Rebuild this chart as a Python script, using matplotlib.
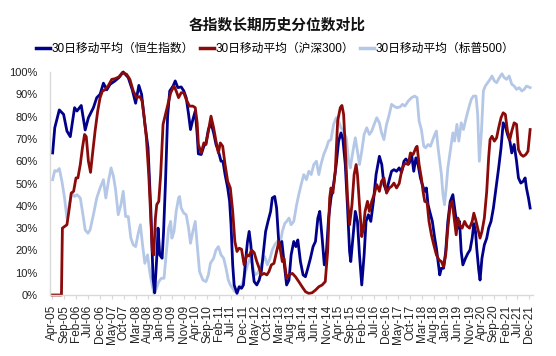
import matplotlib
matplotlib.use('Agg')
import matplotlib.pyplot as plt
from matplotlib.lines import Line2D

plt.rcParams['font.family'] = ['Liberation Sans', 'Noto Sans CJK SC']

title = '各指数长期历史分位数对比'
series_names = ['30日移动平均（恒生指数）', '30日移动平均（沪深300）', '30日移动平均（标普500）']

# x = months since Apr-2005
tick_labels = ['Apr-05', 'Sep-05', 'Feb-06', 'Jul-06', 'Dec-06', 'May-07', 'Oct-07', 'Mar-08',
               'Aug-08', 'Jan-09', 'Jun-09', 'Nov-09', 'Apr-10', 'Sep-10', 'Feb-11', 'Jul-11',
               'Dec-11', 'May-12', 'Oct-12', 'Mar-13', 'Aug-13', 'Jan-14', 'Jun-14', 'Nov-14',
               'Apr-15', 'Sep-15', 'Feb-16', 'Jul-16', 'Dec-16', 'May-17', 'Oct-17', 'Mar-18',
               'Aug-18', 'Jan-19', 'Jun-19', 'Nov-19', 'Apr-20', 'Sep-20', 'Feb-21', 'Jul-21',
               'Dec-21']
tick_months = [5 * i for i in range(len(tick_labels))]

hsi_t = [0.1, 1.0, 2.9, 4.7, 6.1, 7.5, 9.3, 10.3, 12.1, 13.75, 15.1, 17.2, 18.6, 20.0, 21.4, 22.8,
         24.2, 26.25, 27.9, 29.7, 31.8, 33.5, 34.9, 36.25, 37.4, 38.75, 40.1, 41.25, 42.2, 42.9,
         43.9, 44.3, 45.0, 46.0, 46.6, 47.4, 48.3, 49.2, 50.6, 51.5, 52.6, 54.0, 55.1, 56.1, 57.1,
         57.9, 58.9, 59.9, 60.7, 61.2, 62.4, 63.5, 64.4, 65.4, 66.5, 67.6, 68.6, 69.6, 70.7, 71.5,
         72.4, 73.5, 74.3, 74.9, 75.6, 76.2, 77.4, 78.3, 79.3, 80.1, 81.1, 81.8, 82.5, 83.2, 83.9,
         84.6, 85.7, 86.7, 87.6, 88.5, 89.4, 90.4, 91.5, 92.2, 93.2, 94.0, 95.0, 96.2, 97.2, 98.2,
         99.2, 100.1, 101.2, 102.1, 102.9, 104.0, 105.1, 106.1, 107.1, 108.2, 109.3, 110.3, 111.3,
         112.1, 113.1, 114.0, 114.9, 115.8, 116.8, 117.9, 119.0, 120.0, 121.0, 121.8, 122.8,
         123.75, 124.6, 125.1, 126.0, 127.0, 127.9, 128.75, 129.7, 130.7, 131.5, 132.5, 133.5,
         134.6, 135.7, 137.1, 138.1, 139.0, 140.1, 141.25, 142.2, 143.2, 144.3, 145.4, 146.4,
         147.4, 148.2, 149.6, 150.6, 151.5, 152.4, 153.3, 154.3, 155.1, 156.1, 156.8, 157.5,
         158.2, 159.3, 160.3, 161.0, 161.7, 162.4, 163.1, 164.0, 164.9, 165.8, 166.8, 167.9,
         169.0, 170.0, 170.7, 171.4, 172.1, 173.2, 174.2, 175.1, 176.0, 176.7, 177.4, 177.9,
         178.75, 179.3, 180.1, 181.1, 182.1, 182.9, 183.9, 184.9, 186.0, 187.1, 188.1, 189.0,
         189.9, 190.8, 191.8, 192.6, 193.6, 194.6, 195.4, 196.4, 197.4, 198.2, 198.75, 199.6, 200.3]
hsi_v = [63.7, 75, 83, 81, 73.5, 71, 84, 82.5, 85, 74, 79.5, 84, 88.5, 90, 95, 92,
         94.5, 96, 97.5, 100, 97.5, 92, 86, 94, 90, 77, 66, 39, 7.5, 1,
         19.5, 30, 18, 16.5, 28, 50, 80, 91.5, 93.7, 96, 93, 93.3, 91.5, 88.5, 81,
         74.2, 78.7, 82.5, 72, 63.3, 63, 66.7, 68.2, 74.2, 77.2, 72.7, 67.5, 64.5, 60, 60,
         54, 48, 42, 31.5, 13.5, 4.5, 0.7, 3.7, 3, 4.5, 16.5, 24, 28.5, 22.5, 12,
         6, 4.5, 6.7, 10.5, 19.5, 28.5, 33, 37.5, 43.5, 44.2, 39, 22, 24, 14, 4.5,
         6.7, 18, 24, 21.7, 24.7, 15, 9, 8.2, 12, 16.5, 21.7, 24, 34.5,
         37.5, 25.5, 13.5, 19.5, 34.5, 43.5, 49.5, 58.5, 69, 72.7, 69.8, 58.5,
         39, 19.5, 15, 25.5, 37.5, 33, 18, 4.5, 18, 33, 36, 33,
         42, 54, 62.2, 58.5, 49.5, 46.5, 51.7, 55.5, 56.2, 55.5, 57, 55,
         60, 61, 59, 63, 55.5, 61.5, 58.5, 52.5, 49.5, 46.5, 48, 40.5,
         37.5, 33, 25.5, 21, 15, 9, 12, 12, 19.5, 33, 42, 45,
         36, 30, 33, 19.5, 13.5, 16.5, 18.7, 20.2, 25.5, 32, 28.5, 21,
         11.2, 6.7, 16.5, 22.5, 25.5, 30, 33, 39, 48, 57, 66, 77.2,
         75.7, 72, 69, 63.7, 67.5, 60, 52.5, 50.2, 51, 52.5, 48, 43.5, 39]

hs300_t = [0, 3.8, 4.2, 6.1, 7.1, 7.9, 8.9, 9.9, 10.7, 11.7, 12.6, 13.5, 14.2, 15.1, 16.0, 16.8,
           17.9, 19.0, 20.0, 21.0, 22.1, 23.5, 24.9, 26.25, 27.9, 29.3, 31.1, 32.5, 33.9, 35.3,
           36.7, 37.6, 38.5, 39.4, 40.4, 41.25, 41.9, 42.5, 43.2, 43.75, 44.6, 45.4, 46.4, 47.4,
           48.2, 49.6, 51.0, 51.9, 52.9, 54.0, 55.1, 56.1, 57.5, 58.9, 59.9, 60.7, 61.2, 62.4,
           63.5, 64.4, 65.4, 66.5, 67.6, 68.6, 69.6, 70.4, 71.4, 72.4, 73.5, 74.6, 75.6, 76.5,
           77.4, 78.3, 79.3, 80.4, 81.5, 82.5, 83.5, 84.6, 85.7, 86.7, 87.6, 88.75, 89.9, 90.8,
           91.8, 92.9, 94.0, 95.0, 95.7, 96.4, 97.1, 98.2, 99.2, 100.6, 101.9, 103.3, 104.7,
           106.1, 107.5, 108.9, 110.3, 111.7, 113.1, 114.4, 115.4, 116.25, 116.8, 117.6, 118.6,
           119.6, 120.7, 121.4, 122.1, 122.8, 123.75, 124.6, 125.6, 126.5, 127.35, 127.9, 128.75,
           129.7, 130.4, 131.1, 132.1, 132.9, 133.9, 134.9, 136.0, 137.1, 138.0, 139.0, 140.1,
           141.25, 142.2, 143.2, 144.3, 145.4, 146.4, 147.4, 148.2, 149.2, 150.1, 151.25, 152.4,
           152.9, 153.75, 154.7, 155.4, 156.1, 157.1, 157.9, 158.9, 159.9, 161.0, 162.1, 163.1,
           164.0, 164.9, 165.8, 166.8, 167.6, 168.6, 169.3, 170.0, 170.7, 171.8, 172.8, 173.75,
           174.9, 176.0, 176.7, 177.4, 178.3, 179.3, 180.1, 181.1, 182.1, 182.9, 183.5, 184.3,
           185.3, 186.25, 187.1, 188.1, 189.0, 189.9, 190.8, 191.8, 192.6, 193.6, 194.6, 195.4,
           196.4, 197.4, 198.5, 199.4, 200.3]
hs300_v = [0, 0, 30, 31.5, 39, 45.7, 46.5, 52.5, 52.5, 58.5, 66, 72, 71, 60, 55, 63,
           73.5, 82.5, 88.5, 91.5, 92, 94, 96.7, 97, 97.8, 99.7, 99, 96.7, 91.5, 88.5,
           89, 87, 79.5, 70.5, 54, 34.5, 19.5, 18, 34.5, 40.5, 42, 54, 76.5, 81,
           84.7, 90.7, 93.7, 91.5, 88.5, 90.7, 90.7, 87.7, 84.7, 84.7, 84, 77.2, 67.5, 63.7,
           68.2, 67.5, 73.5, 80.2, 75, 69, 63.7, 68.2, 66.7, 58.5, 51, 48, 37.5, 24,
           19.5, 21, 20.5, 13.5, 18, 17.5, 20.2, 19, 15, 12, 9, 9.7, 9, 10.5,
           13.5, 14.2, 19.5, 24, 19.5, 15, 16.5, 7.5, 9, 9.7, 8.2, 6, 3.7,
           1.5, 0.7, 1, 2.2, 3.7, 4.5, 6, 19.5, 43.5, 48, 45.7, 55.5,
           78, 84, 85, 81, 66, 43.5, 31.5, 40.5, 54, 58.5, 54, 40.5,
           26.2, 30, 37.5, 42, 37.5, 42, 45, 49.5, 46.5, 51, 52.5, 45.7,
           48, 48.7, 50.2, 48, 50, 55.5, 58.5, 59, 58.5, 63.7, 63, 66,
           66.7, 58.5, 52.5, 46.5, 42, 41.5, 33, 27, 22.5, 18, 15.7, 15,
           12.7, 18, 30, 40.5, 42, 33, 27, 34.5, 31.5, 30, 33, 31,
           30, 33, 36.7, 34, 30, 25.5, 28.5, 34.5, 46.5, 61.5, 69.7, 71.2,
           69, 70.5, 75, 79.5, 81.7, 81, 73.5, 69.7, 73.5, 77.2, 76.5, 65.2,
           63, 62.2, 63, 64.5, 74.2]

sp_t = [0.1, 1.0, 1.9, 2.9, 4.0, 5.1, 6.1, 7.1, 8.2, 9.3, 10.3, 11.7, 12.6, 13.75, 14.9, 15.8,
        17.2, 18.6, 20.0, 21.4, 22.4, 23.5, 24.6, 25.6, 26.5, 27.6, 28.75, 29.7, 30.7, 31.8,
        32.9, 33.9, 34.9, 36.0, 36.9, 37.8, 38.75, 39.9, 40.8, 41.8, 42.6, 43.6, 44.6, 45.7,
        46.8, 47.8, 48.75, 49.6, 50.1, 51.0, 51.9, 52.9, 53.3, 54.0, 55.1, 56.1, 57.1, 57.9,
        58.9, 59.9, 60.7, 61.7, 63.1, 64.4, 65.4, 66.25, 67.6, 68.6, 69.6, 70.7, 71.8, 72.8,
        73.75, 74.6, 75.6, 76.5, 77.6, 78.75, 79.7, 80.7, 81.8, 82.9, 83.9, 84.9, 86.0, 87.1,
        88.1, 89.0, 90.1, 91.25, 92.2, 93.2, 94.3, 95.4, 96.4, 97.4, 98.2, 99.2, 100.1, 101.2,
        102.4, 103.3, 104.3, 105.4, 106.5, 107.5, 108.5, 109.6, 110.7, 111.7, 112.6, 113.75,
        114.9, 115.8, 116.8, 117.9, 119.0, 120.0, 121.0, 122.1, 123.2, 124.2, 124.9, 126.0,
        127.0, 127.9, 128.75, 129.7, 130.7, 131.8, 132.9, 133.9, 134.9, 136.0, 137.1, 138.0,
        139.0, 140.1, 141.25, 142.2, 143.2, 144.3, 145.7, 146.8, 147.8, 149.2, 150.6, 151.9,
        152.9, 153.75, 154.7, 155.7, 156.5, 157.5, 158.5, 159.3, 160.3, 161.0, 161.7, 162.4,
        163.1, 163.75, 164.4, 165.1, 165.8, 166.8, 167.9, 168.6, 169.6, 170.4, 171.4, 172.35,
        173.5, 174.6, 175.6, 176.5, 177.6, 178.3, 179.0, 179.9, 180.7, 181.5, 182.5, 183.5,
        184.3, 185.3, 186.25, 187.4, 188.5, 189.4, 190.4, 191.5, 192.6, 193.6, 194.6, 195.7,
        196.8, 197.8, 198.75, 200.3]
sp_v = [51.7, 55.8, 55.5, 56.7, 51, 43.5, 34.5, 40.5, 45.7, 44.2, 45, 43.5, 37.5, 29.2, 27.7, 29.2,
        36, 43.5, 48, 51.7, 43.5, 51, 57, 53.2, 47.2, 36, 40.5, 46.5, 35.2, 35.2,
        25.5, 22.5, 21.7, 27.7, 31.5, 22.5, 14.2, 18, 10.5, 4.5, 0.7, 3, 6, 7.5,
        7.5, 19.5, 30, 33, 25.5, 28.5, 37.5, 43.5, 44.2, 39, 36.7, 36, 30, 23.2,
        28.5, 33, 22.5, 10.5, 6.7, 6, 9, 14.2, 16.5, 20.2, 21.7, 18, 16.5, 12,
        6.7, 4.5, 3, 1.5, 1.5, 3.5, 5.2, 9, 13.5, 16.5, 13.5, 9, 9.7, 12,
        15, 17.2, 13.5, 16.5, 20.2, 22.5, 24, 22.5, 28.5, 32, 33, 34.5, 31.5, 33,
        40.5, 45, 49.5, 54, 51.7, 55.5, 54, 58.5, 60, 54, 58.5, 63,
        66, 69, 69.7, 76.5, 79.5, 78, 75, 73.5, 70.5, 60, 57, 64.5,
        70.5, 64.5, 58.5, 64.5, 72, 75, 72, 73.5, 76.5, 79.5, 77.2, 72.7,
        69.7, 76.5, 81, 85.5, 84.7, 84, 84.3, 85.5, 84.7, 87, 88.5, 89.2,
        88.5, 78, 74.2, 66.7, 66, 67.5, 66.7, 69, 72, 73.5, 66, 60,
        54, 45, 40.5, 48, 57, 64.5, 72.7, 69, 76.5, 69, 77.2, 74.2,
        79.5, 84, 87.7, 89.2, 89.2, 81, 60, 73.5, 91.5, 93.7, 95.2, 96.7,
        98.2, 96, 95.2, 97.5, 99.2, 97.5, 96.7, 98.2, 94.5, 93.7, 92.2, 93,
        91.5, 92.2, 93.7, 93]

colors = ['#00008b', '#8b0a0a', '#b4c7e7']

fig = plt.figure(figsize=(5.56, 3.56), dpi=100)
ax = fig.add_axes([50 / 556, 1 - 295 / 356, (533 - 50) / 556, (295 - 72) / 356])

lw = 2.0
ax.plot(sp_t, sp_v, color=colors[2], lw=lw, clip_on=False, solid_joinstyle='round')
ax.plot(hsi_t, hsi_v, color=colors[0], lw=lw, clip_on=False, solid_joinstyle='round')
ax.plot(hs300_t, hs300_v, color=colors[1], lw=lw, clip_on=False, solid_joinstyle='round')

ax.set_xlim(-1, 201.5)
ax.set_ylim(0, 100)
yt = list(range(0, 101, 10))
ax.set_yticks(yt)
ax.set_yticklabels([f'{v}%' for v in yt])
ax.set_xticks(tick_months)
ax.set_xticklabels(tick_labels, rotation=90)
ax.tick_params(axis='x', length=3, color='#d9d9d9', labelsize=8.5, pad=4, labelcolor='#222222')
ax.tick_params(axis='y', length=0, labelsize=8, pad=9, labelcolor='#222222')
for s in ['top', 'right']:
    ax.spines[s].set_visible(False)
for s in ['left', 'bottom']:
    ax.spines[s].set_color('#d9d9d9')
    ax.spines[s].set_linewidth(1.0)

fig.text(277 / 556, 1 - 25 / 356, title, ha='center', va='center', fontsize=10.6,
         fontweight='bold', color='#111111')

handles = [Line2D([], [], color=c, lw=2.5) for c in colors]
fig.legend(handles, series_names, loc='center', bbox_to_anchor=(275 / 556, 1 - 49 / 356),
           ncol=3, frameon=False, fontsize=8.5, handlelength=1.2, handletextpad=0.1,
           columnspacing=0.5, borderaxespad=0, borderpad=0)

fig.savefig('out.png', dpi=100)
